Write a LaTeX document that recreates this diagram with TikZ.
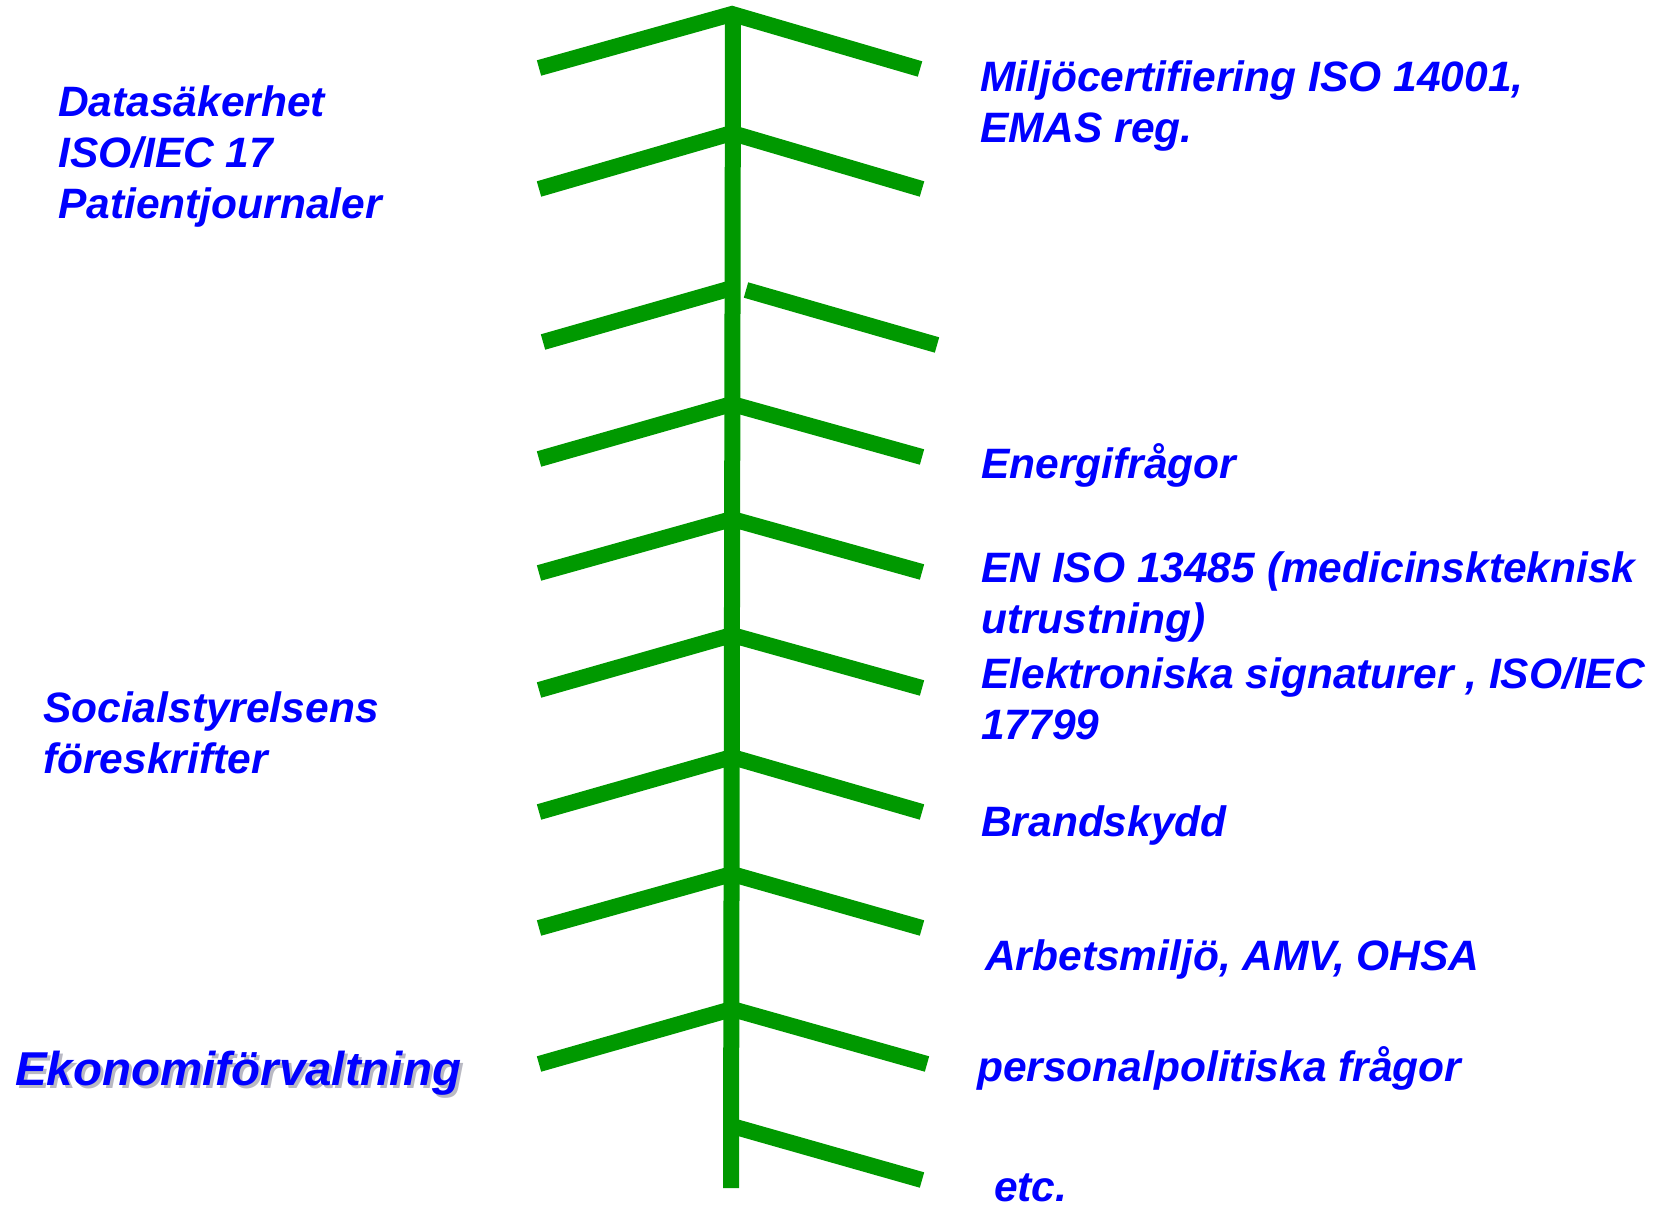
\documentclass[tikz,border=0pt]{standalone}
\usepackage{fontspec}
\setmainfont{Liberation Sans}
\definecolor{treegreen}{RGB}{0,153,0}
\definecolor{txtblue}{RGB}{0,0,255}
\definecolor{shadowgray}{RGB}{185,185,195}
\begin{document}
\begin{tikzpicture}[x=1pt,y=-1pt,
  branch/.style={draw=treegreen,line width=16pt,line join=miter},
  lbl/.style={anchor=base west,inner sep=0pt,text=txtblue,
    font=\fontsize{42.5}{51}\selectfont\bfseries\itshape,align=left},
  big/.style={anchor=base west,inner sep=0pt,
    font=\fontsize{47.5}{57}\selectfont\bfseries\itshape}]
\useasboundingbox (0,0) rectangle (1664,1207);
% trunk
\coordinate (ttop) at (733,14);
\coordinate (tbot) at (731,1188);
% joints, left ends, right ends
\coordinate (j1) at (732,14);   \coordinate (l1) at (539,68);   \coordinate (r1) at (920,69);
\coordinate (j2) at (732,133);  \coordinate (l2) at (539,189);  \coordinate (r2) at (922,189);
\coordinate (j3) at (732,288);  \coordinate (l3) at (543,342);  \coordinate (s3) at (746,290); \coordinate (r3) at (937,345);
\coordinate (j4) at (732,404);  \coordinate (l4) at (539,459);  \coordinate (r4) at (922,457);
\coordinate (j5) at (732,519);  \coordinate (l5) at (539,573);  \coordinate (r5) at (922,572);
\coordinate (j6) at (732,635);  \coordinate (l6) at (539,690);  \coordinate (r6) at (922,688);
\coordinate (j7) at (732,757);  \coordinate (l7) at (539,812);  \coordinate (r7) at (922,812);
\coordinate (j8) at (732,874);  \coordinate (l8) at (539,928);  \coordinate (r8) at (922,928);
\coordinate (j9) at (732,1009); \coordinate (l9) at (539,1064); \coordinate (r9) at (927,1064);
\coordinate (j10) at (732,1126); \coordinate (r10) at (922,1180);

\draw[branch] (ttop) -- (tbot);
\draw[branch] (l1) -- (j1) -- (r1);
\draw[branch] (l2) -- (j2) -- (r2);
\draw[branch] (l3) -- (j3);
\draw[branch] (s3) -- (r3);
\draw[branch] (l4) -- (j4) -- (r4);
\draw[branch] (l5) -- (j5) -- (r5);
\draw[branch] (l6) -- (j6) -- (r6);
\draw[branch] (l7) -- (j7) -- (r7);
\draw[branch] (l8) -- (j8) -- (r8);
\draw[branch] (l9) -- (j9) -- (r9);
\draw[branch] (j10) -- (r10);

% left labels (base anchor = baseline of last line)
\node[lbl] (data) at (58,218) {Datasäkerhet\\ISO/IEC 17\\Patientjournaler};
\node[lbl] (social) at (43,773) {Socialstyrelsens\\föreskrifter};
\node[big,text=shadowgray] (ekoshadow) at (18,1088) {Ekonomiförvaltning};
\node[big,text=txtblue] (eko) at (15,1085) {Ekonomiförvaltning};

% right labels
\node[lbl] (miljo) at (980,142) {Miljöcertifiering ISO 14001,\\EMAS reg.};
\node[lbl] (energi) at (981,478) {Energifrågor};
\node[lbl] (eniso) at (981,633) {EN ISO 13485 (medicinskteknisk\\utrustning)};
\node[lbl] (elektr) at (981,739) {Elektroniska signaturer , ISO/IEC\\17799};
\node[lbl] (brand) at (981,836) {Brandskydd};
\node[lbl] (arbets) at (985,970) {Arbetsmiljö, AMV, OHSA};
\node[lbl] (person) at (977,1081) {personalpolitiska frågor};
\node[lbl] (etc) at (994,1201) {etc.};
\end{tikzpicture}
\end{document}
